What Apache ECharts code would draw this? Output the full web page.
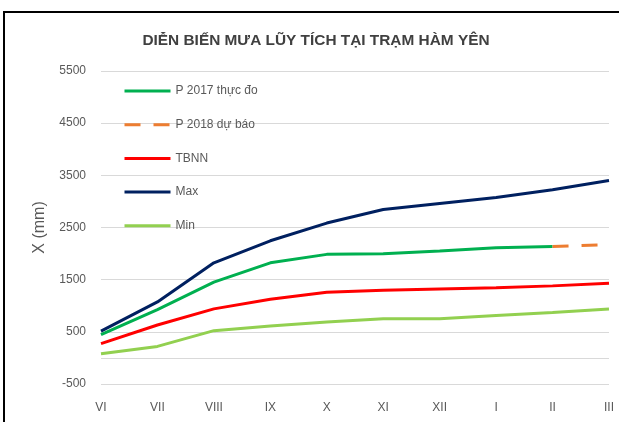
<!DOCTYPE html>
<html>
<head>
<meta charset="utf-8">
<script src="https://cdn.jsdelivr.net/npm/echarts@6/dist/echarts.min.js"></script>
<style>html,body{margin:0;padding:0;background:#fff;}#c{width:619px;height:422px;}</style>
</head>
<body>
<div id="c"></div>
<script>
const months = ['VI','VII','VIII','IX','X','XI','XII','I','II','III'];
const p2017 = [446, 927, 1452, 1823, 1985, 1996, 2048, 2110, 2135, null];
const p2018 = [null, null, null, null, null, null, null, null, 2135, 2170];
const tbnn = [273, 631, 940, 1125, 1260, 1298, 1323, 1343, 1381, 1433];
const maxS = [515, 1073, 1823, 2245, 2585, 2845, 2960, 3075, 3225, 3400];
const minS = [80, 221, 523, 612, 690, 753, 753, 811, 869, 940];
const yTicks = [-500, 500, 1500, 2500, 3500, 4500, 5500];

const chart = echarts.init(document.getElementById('c'), null, {renderer: 'canvas'});
const font = 'Liberation Sans';
const dash = [16, 13];
function line(name, data, color, dashed) {
  return {
    name: name, type: 'line', data: data, symbol: 'none', smooth: false,
    connectNulls: false, silent: true,
    lineStyle: {color: color, width: 3, type: dashed ? dash : 'solid', cap: 'butt'},
    itemStyle: {color: color}
  };
}
const zeroLine = {
  name: 'zero', type: 'line', data: [], silent: true, symbol: 'none',
  markLine: {
    silent: true, symbol: 'none', label: {show: false},
    lineStyle: {color: '#D9D9D9', width: 1, type: 'solid'},
    data: [{yAxis: 0}]
  }
};
const series = [
  zeroLine,
  line('P 2017 thực đo', p2017, '#00B050'),
  line('P 2018 dự báo', p2018, '#ED7D31', true),
  line('TBNN', tbnn, '#FF0000'),
  line('Max', maxS, '#002060'),
  line('Min', minS, '#92D050')
];
chart.setOption({
  animation: false,
  title: {
    text: 'DIỄN BIẾN MƯA LŨY TÍCH TẠI TRẠM HÀM YÊN',
    left: 311, top: 28, textAlign: 'center',
    textStyle: {fontFamily: font, fontSize: 15.4, fontWeight: 'bold', color: '#404040'}
  },
  graphic: [{
    type: 'polyline', shape: {points: [[4, 440], [4, 12], [640, 12]]},
    style: {fill: 'none', stroke: '#000', lineWidth: 2}, silent: true
  }],
  legend: {
    orient: 'vertical', left: 123, top: 85, itemWidth: 46, itemHeight: 14, itemGap: 21.7,
    padding: 0,
    data: [
      {name: 'P 2017 thực đo'},
      {name: 'P 2018 dự báo', lineStyle: {type: dash, width: 3}},
      {name: 'TBNN'}, {name: 'Max'}, {name: 'Min'}
    ],
    itemStyle: {opacity: 0, borderWidth: 0},
    lineStyle: {width: 3},
    textStyle: {fontFamily: font, fontSize: 12, color: '#595959'},
    selectedMode: false
  },
  grid: {left: 101, right: 10, top: 71, bottom: 38, containLabel: false},
  xAxis: {
    type: 'category', data: months, boundaryGap: false,
    axisLine: {show: false}, axisTick: {show: false},
    axisLabel: {fontFamily: font, fontSize: 12, color: '#595959', margin: 18},
    splitLine: {show: false}
  },
  yAxis: {
    type: 'value', min: yTicks[0], max: yTicks[yTicks.length - 1], interval: 1000,
    name: 'X (mm)', nameLocation: 'middle', nameGap: 53, nameRotate: 90,
    nameTextStyle: {fontFamily: font, fontSize: 16, color: '#595959'},
    axisLine: {show: false}, axisTick: {show: false},
    axisLabel: {fontFamily: font, fontSize: 12, color: '#595959', margin: 15,
      formatter: function (v) { return String(v); }},
    splitLine: {lineStyle: {color: '#D9D9D9', width: 1}}
  },
  series: series
});
</script>
</body>
</html>
